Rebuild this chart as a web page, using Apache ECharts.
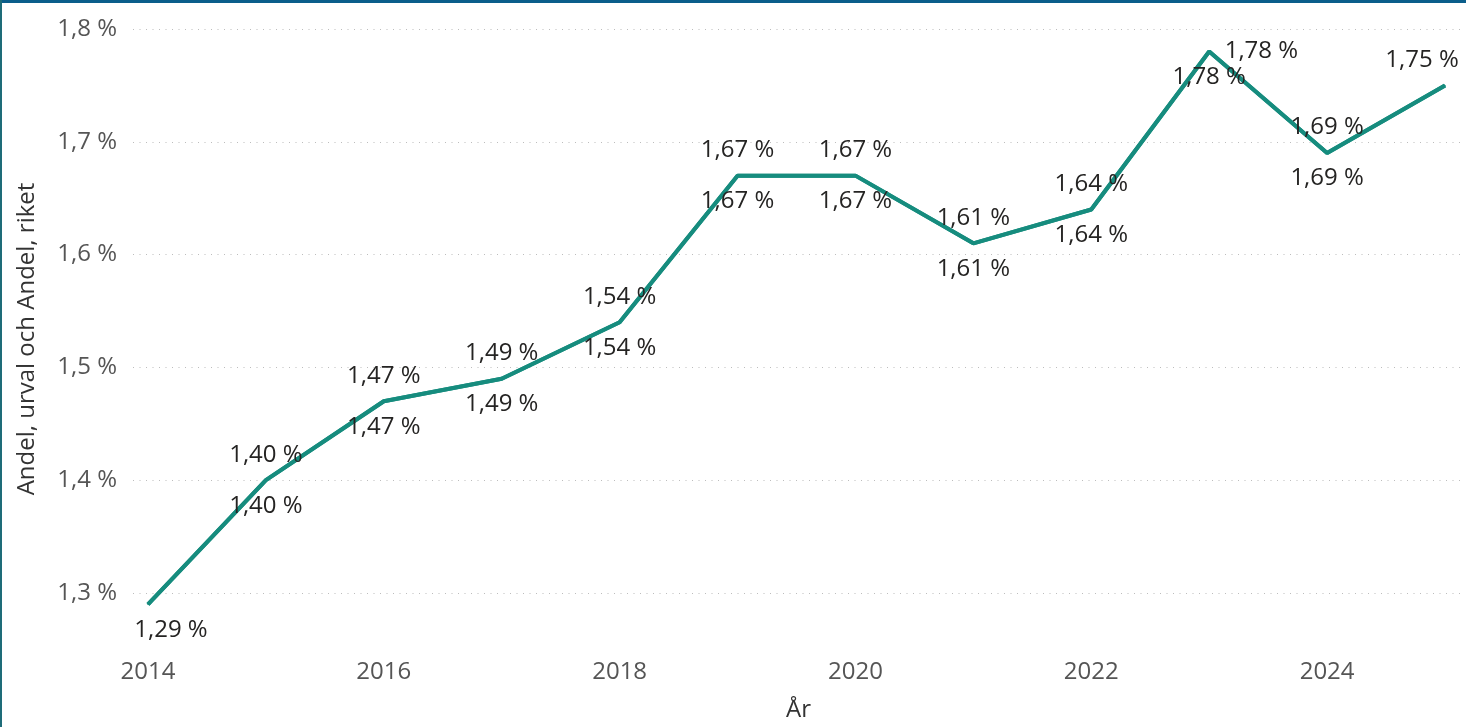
<!DOCTYPE html>
<html>
<head>
<meta charset="utf-8">
<script src="https://cdn.jsdelivr.net/npm/echarts@6/dist/echarts.min.js"></script>
<style>
  html, body { margin: 0; padding: 0; background: #ffffff; }
  #wrap { position: relative; width: 1466px; height: 727px; overflow: hidden; }
  #chart { position: absolute; left: 0; top: 0; width: 1466px; height: 727px; }
  .edge-top { position: absolute; left: 0; top: 0; width: 1466px; height: 3px; background: #0b5e8b; }
  .edge-left { position: absolute; left: 0; top: 0; width: 2px; height: 727px; background: #1e6c79; }
</style>
</head>
<body>
<div id="wrap">
  <div id="chart"></div>
  <div class="edge-top"></div>
  <div class="edge-left"></div>
</div>
<script>
// Share of the population, selection vs. whole country, per year
const years = [2014, 2015, 2016, 2017, 2018, 2019, 2020, 2021, 2022, 2023, 2024, 2025];
const andelUrval = [1.29, 1.40, 1.47, 1.49, 1.54, 1.67, 1.67, 1.61, 1.64, 1.78, 1.69, 1.75];
const andelRiket = [1.29, 1.40, 1.47, 1.49, 1.54, 1.67, 1.67, 1.61, 1.64, 1.78, 1.69, 1.75];
const yearTicks = [2014, 2016, 2018, 2020, 2022, 2024];
const yTicks = { min: 1.3, max: 1.8, step: 0.1 };

const FONT = '"Segoe UI", "Open Sans", sans-serif';
const FONT_SIZE = 24;
const LINE_COLOR = '#168c7e';
const LABEL_COLOR = '#252423';
const AXIS_COLOR = '#555555';

const pct = (v, d) => v.toFixed(d).replace('.', ',') + ' %';

// per-point label tweaks so the edge labels stay inside the plot
const urvalLabelTweaks = {
  0: { show: false },
  9: { position: 'right', distance: 15 },
  11: { offset: [-23, 0] }
};
const riketLabelTweaks = {
  0: { offset: [23, 0] },
  11: { show: false }
};

function buildData(values, tweaks) {
  return years.map((y, i) => {
    const item = { value: [y, values[i]] };
    if (tweaks[i]) item.label = tweaks[i];
    return item;
  });
}

const baseSeries = {
  type: 'line',
  clip: false,
  symbol: 'circle',
  symbolSize: 1,
  showSymbol: true,
  lineStyle: { color: LINE_COLOR, width: 4 },
  itemStyle: { color: LINE_COLOR },
  emphasis: { disabled: true },
  label: {
    show: true,
    fontFamily: FONT,
    fontSize: FONT_SIZE,
    color: LABEL_COLOR,
    distance: 13,
    formatter: p => pct(p.value[1], 2)
  }
};

const chart = echarts.init(document.getElementById('chart'), null, { renderer: 'canvas' });
chart.setOption({
  animation: false,
  backgroundColor: '#ffffff',
  grid: { left: 133, right: 2, top: 29, bottom: 132 },
  xAxis: {
    type: 'value',
    min: 2013.873,
    max: 2025.161,
    name: 'År',
    nameLocation: 'middle',
    nameGap: 105,
    nameTextStyle: { fontFamily: FONT, fontSize: FONT_SIZE, color: '#333333' },
    axisLine: { show: false },
    axisTick: { show: false },
    splitLine: { show: false },
    axisLabel: {
      customValues: yearTicks,
      margin: 67,
      fontFamily: FONT,
      fontSize: FONT_SIZE,
      color: AXIS_COLOR,
      formatter: v => String(v)
    }
  },
  yAxis: {
    type: 'value',
    min: yTicks.min,
    max: yTicks.max,
    interval: yTicks.step,
    name: 'Andel, urval och Andel, riket',
    nameLocation: 'middle',
    nameGap: 94,
    nameTextStyle: { fontFamily: FONT, fontSize: FONT_SIZE, color: '#333333', padding: [0, 56, 0, 0] },
    axisLine: { show: false },
    axisTick: { show: false },
    axisLabel: {
      margin: 16,
      fontFamily: FONT,
      fontSize: FONT_SIZE,
      color: AXIS_COLOR,
      formatter: v => pct(v, 1)
    },
    splitLine: { lineStyle: { color: '#bdbdbd', width: 1, type: [1, 5.5] } }
  },
  series: [
    Object.assign({}, baseSeries, {
      name: 'Andel, riket',
      data: buildData(andelRiket, riketLabelTweaks),
      label: Object.assign({}, baseSeries.label, { position: 'bottom' })
    }),
    Object.assign({}, baseSeries, {
      name: 'Andel, urval',
      data: buildData(andelUrval, urvalLabelTweaks),
      label: Object.assign({}, baseSeries.label, { position: 'top' })
    })
  ]
});
</script>
</body>
</html>
